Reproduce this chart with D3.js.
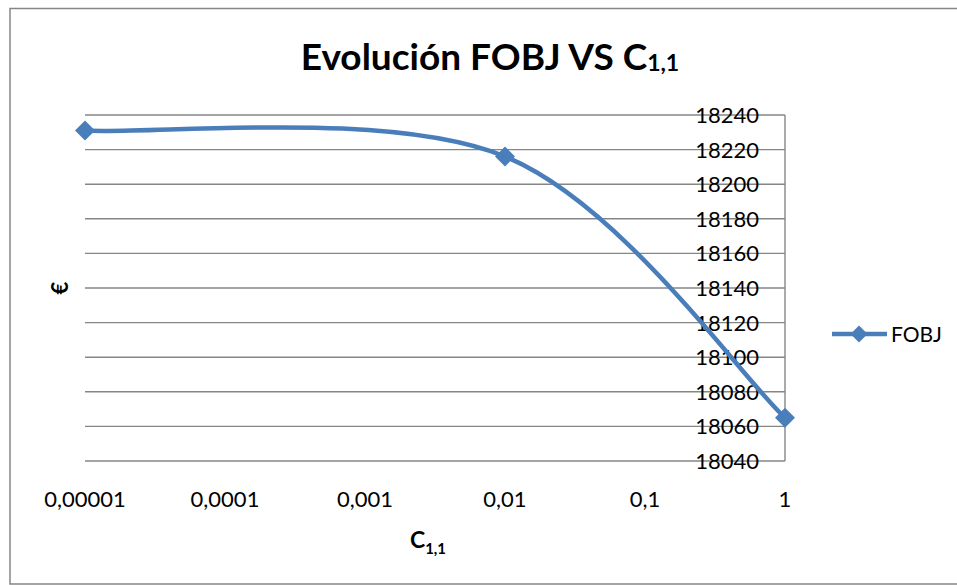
<!DOCTYPE html>
<html>
<head>
<meta charset="utf-8">
<script src="https://cdn.jsdelivr.net/npm/d3@7"></script>
<style>
  html, body { margin: 0; padding: 0; background: #fff; }
  svg { display: block; }
  text { font-family: Lato, "Open Sans", sans-serif; fill: #000; }
</style>
</head>
<body>
<div id="chart"></div>
<script>
// ---- data ----
const xValues = [0.00001, 0.01, 1];
const fobjValues = [18231, 18216, 18065];
const seriesName = "FOBJ";
const xTicks = [0.00001, 0.0001, 0.001, 0.01, 0.1, 1];
const xTickLabels = ["0,00001", "0,0001", "0,001", "0,01", "0,1", "1"];
const yTicks = [18040, 18060, 18080, 18100, 18120, 18140, 18160, 18180, 18200, 18220, 18240];
const yTickLabels = ["18040", "18060", "18080", "18100", "18120", "18140", "18160", "18180", "18200", "18220", "18240"];

// ---- layout ----
const W = 957, H = 585;
const plot = { left: 85, right: 785, top: 115, bottom: 461 };
const blue = "#4A7EBB";
const gridColor = "#868686";

// Excel-like smoothing: Catmull-Rom (1/6 tangents) with end points repeated
function ExcelSmooth(context) { this._context = context; }
ExcelSmooth.prototype = {
  areaStart() { this._line = 0; },
  areaEnd() { this._line = NaN; },
  lineStart() { this._pts = []; },
  lineEnd() {
    const p = this._pts, c = this._context, n = p.length;
    if (!n) return;
    if (this._line) c.lineTo(p[0][0], p[0][1]); else c.moveTo(p[0][0], p[0][1]);
    for (let i = 0; i < n - 1; i++) {
      const p0 = p[Math.max(i - 1, 0)], p1 = p[i], p2 = p[i + 1], p3 = p[Math.min(i + 2, n - 1)];
      c.bezierCurveTo(
        p1[0] + (p2[0] - p0[0]) / 6, p1[1] + (p2[1] - p0[1]) / 6,
        p2[0] - (p3[0] - p1[0]) / 6, p2[1] - (p3[1] - p1[1]) / 6,
        p2[0], p2[1]);
    }
    if (this._line || (this._line !== 0 && n === 1)) c.closePath();
    this._line = 1 - this._line;
  },
  point(x, y) { this._pts.push([+x, +y]); }
};
const excelSmooth = context => new ExcelSmooth(context);

const svg = d3.select("#chart").append("svg").attr("width", W).attr("height", H);
svg.append("rect").attr("width", W).attr("height", H).attr("fill", "#fff");
// chart border (extends past right edge)
svg.append("rect").attr("x", 10).attr("y", 8.5).attr("width", 980).attr("height", 575.5)
  .attr("fill", "none").attr("stroke", gridColor).attr("stroke-width", 1.5);

const x = d3.scaleLog().domain([xTicks[0], xTicks[xTicks.length - 1]]).range([plot.left, plot.right]);
const y = d3.scaleLinear().domain([yTicks[0], yTicks[yTicks.length - 1]]).range([plot.bottom, plot.top]);

// gridlines
svg.append("g").selectAll("line").data(yTicks).join("line")
  .attr("x1", plot.left).attr("x2", plot.right)
  .attr("y1", d => y(d)).attr("y2", d => y(d))
  .attr("stroke", gridColor).attr("stroke-width", 1.4);

// vertical axis at x = 1 (right)
svg.append("line").attr("x1", x(1)).attr("x2", x(1))
  .attr("y1", y(yTicks[0])).attr("y2", y(yTicks[yTicks.length - 1]))
  .attr("stroke", gridColor).attr("stroke-width", 1.4);

// y tick labels (left of the axis at x=1)
svg.append("g").selectAll("text").data(yTicks).join("text")
  .attr("x", plot.right - 26).attr("y", d => y(d)).attr("dy", "0.36em")
  .attr("text-anchor", "end").attr("font-size", 22)
  .text((d, i) => yTickLabels[i]);

// x tick labels
svg.append("g").selectAll("text").data(xTicks).join("text")
  .attr("x", d => x(d)).attr("y", 507)
  .attr("text-anchor", "middle").attr("font-size", 22)
  .text((d, i) => xTickLabels[i]);

// series line (smoothed)
const pts = xValues.map((v, i) => [v, fobjValues[i]]);
const line = d3.line().x(d => x(d[0])).y(d => y(d[1])).curve(excelSmooth);
svg.append("path").datum(pts).attr("d", line)
  .attr("fill", "none").attr("stroke", blue).attr("stroke-width", 4.5)
  .attr("stroke-linejoin", "round").attr("stroke-linecap", "round");

// markers (diamonds)
const diamond = (cx, cy, r) => `M${cx},${cy - r}L${cx + r},${cy}L${cx},${cy + r}L${cx - r},${cy}Z`;
svg.append("g").selectAll("path").data(pts).join("path")
  .attr("d", d => diamond(x(d[0]), y(d[1]), 10))
  .attr("fill", blue);

// title
const title = svg.append("text").attr("x", 490).attr("y", 70).attr("text-anchor", "middle")
  .attr("font-size", 37).attr("font-weight", "bold");
title.append("tspan").text("Evolución FOBJ VS C");
title.append("tspan").attr("font-size", 23).attr("dy", 1).text("1,1");

// x axis title
const xt = svg.append("text").attr("x", 428).attr("y", 548).attr("text-anchor", "middle")
  .attr("font-weight", "bold");
xt.append("tspan").attr("font-size", 23).text("C");
xt.append("tspan").attr("font-size", 15).attr("dy", 6).text("1,1");

// y axis title
svg.append("text").attr("transform", `translate(68,${(plot.top + plot.bottom) / 2}) rotate(-90)`)
  .attr("text-anchor", "middle").attr("font-size", 22).attr("font-weight", "bold").text("€");

// legend
const lg = svg.append("g");
lg.append("line").attr("x1", 832).attr("x2", 887).attr("y1", 334).attr("y2", 334)
  .attr("stroke", blue).attr("stroke-width", 4.5);
lg.append("path").attr("d", diamond(859, 334, 8.5)).attr("fill", blue);
lg.append("text").attr("x", 891).attr("y", 334).attr("dy", "0.36em").attr("font-size", 21).text(seriesName);
</script>
</body>
</html>
